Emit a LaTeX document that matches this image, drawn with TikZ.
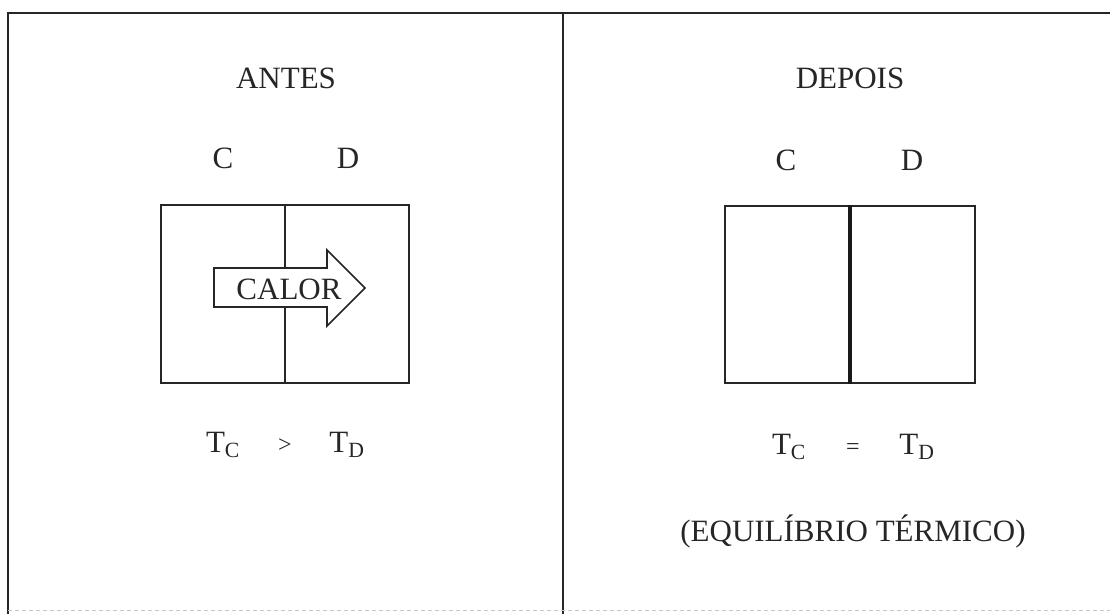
\documentclass[tikz,border=0pt]{standalone}
\usepackage{fontspec}
\setmainfont{Liberation Serif}
\tikzset{
  lbl/.style={anchor=base, inner sep=0pt, text=black!85, font=\fontsize{31}{36}\selectfont},
  frameline/.style={draw=black!85, line width=1.6pt},
  boxshape/.style={draw=black!85, line width=1.8pt, fill=none, rectangle, inner sep=0pt},
  heatarrow/.style={draw=black!85, line width=1.6pt, fill=white, line join=miter}
}
\begin{document}
\begin{tikzpicture}[x=1pt,y=-1pt]
\useasboundingbox (0,0) rectangle (1110,614);
\fill[white] (0,0) rectangle (1110,614);
% outer frame
\coordinate (fbl) at (8,614);
\coordinate (ftl) at (8,13);
\coordinate (ftr) at (1110,13);
\coordinate (dt) at (563,13);
\coordinate (db) at (563,614);
\draw[frameline] (fbl) -- (ftl) -- (ftr);
\draw[frameline] (dt) -- (db);
\coordinate (bl) at (8,610);
\coordinate (br) at (1110,610);
\draw[gray!45, line width=0.7pt, dash pattern=on 4pt off 3pt] (bl) -- (br);

% ---- left panel
\node[lbl] (antes) at (286,88) {ANTES};
\node[lbl] (cL) at (223,168) {C};
\node[lbl] (dL) at (348,168) {D};
\node[boxshape, minimum width=248pt, minimum height=178pt] (boxL) at (285,294) {};
\draw[black!85, line width=1.8pt] (boxL.north) -- (boxL.south);
\draw[heatarrow] (214,268) -- (327,268) -- (327,250) -- (365,288) -- (327,326) -- (327,307) -- (214,307) -- cycle;
\node[lbl] (calor) at (289,299) {CALOR};
\node[lbl] (tcL) at (223,452) {T\textsubscript{C}};
\node[lbl] (gt) at (285,452) {\fontsize{24}{28}\selectfont >};
\node[lbl] (tdL) at (347,452) {T\textsubscript{D}};

% ---- right panel
\node[lbl] (depois) at (850,88) {DEPOIS};
\node[lbl] (cR) at (786,170) {C};
\node[lbl] (dR) at (912,170) {D};
\node[boxshape, minimum width=250pt, minimum height=177pt] (boxR) at (850,294.5) {};
\draw[black!90, line width=3.2pt] (boxR.north) -- (boxR.south);
\node[lbl] (tcR) at (789,454) {T\textsubscript{C}};
\node[lbl] (eq) at (853,454) {\fontsize{24}{28}\selectfont =};
\node[lbl] (tdR) at (917,454) {T\textsubscript{D}};
\node[lbl] (equil) at (853,541) {(EQUILÍBRIO TÉRMICO)};
\end{tikzpicture}
\end{document}
